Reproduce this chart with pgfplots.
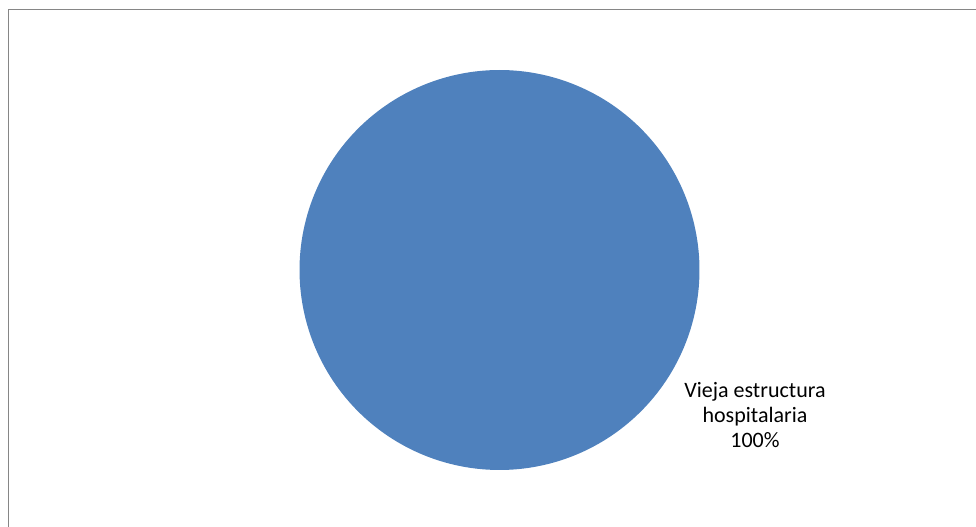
\documentclass[border=0pt]{standalone}
\usepackage{fontspec}
\setmainfont{Carlito}
\usepackage{pgfplots}
\usepackage{pgfplotstable}
\pgfplotsset{compat=1.18}
\definecolor{piecolor}{HTML}{4F81BD}
\definecolor{framecolor}{HTML}{868686}
\pgfplotstableread[col sep=comma]{
label,value
Vieja estructura hospitalaria,100
}\pietable
\begin{document}
\begin{tikzpicture}[x=0.75pt,y=0.75pt]
\pgfplotstablegetelem{0}{value}\of\pietable
\let\sliceval=\pgfplotsretval
\begin{axis}[
  at={(0,0)}, anchor=south west,
  scale only axis, width=732pt, height=394.5pt,
  xmin=0, xmax=976, ymin=0, ymax=526,
  hide axis, clip=false,
]
\addplot[fill=piecolor, draw=none, domain=90:90-3.6*\sliceval, samples=240, variable=\t]
  ({499.5+200*cos(\t)},{256+200*sin(\t)});
\node[align=center, font=\fontsize{16.5}{19}\selectfont, text=black]
  at (axis cs:755,111) {Vieja estructura\\hospitalaria\\\pgfmathprintnumber[assume math mode=true]{\sliceval}\%};
\end{axis}
\draw[framecolor, line width=1pt] (8.5,-5) -- (8.5,516.5) -- (990,516.5);
\pgfresetboundingbox
\path[use as bounding box] (0,0) rectangle (976,526);
\end{tikzpicture}
\end{document}
